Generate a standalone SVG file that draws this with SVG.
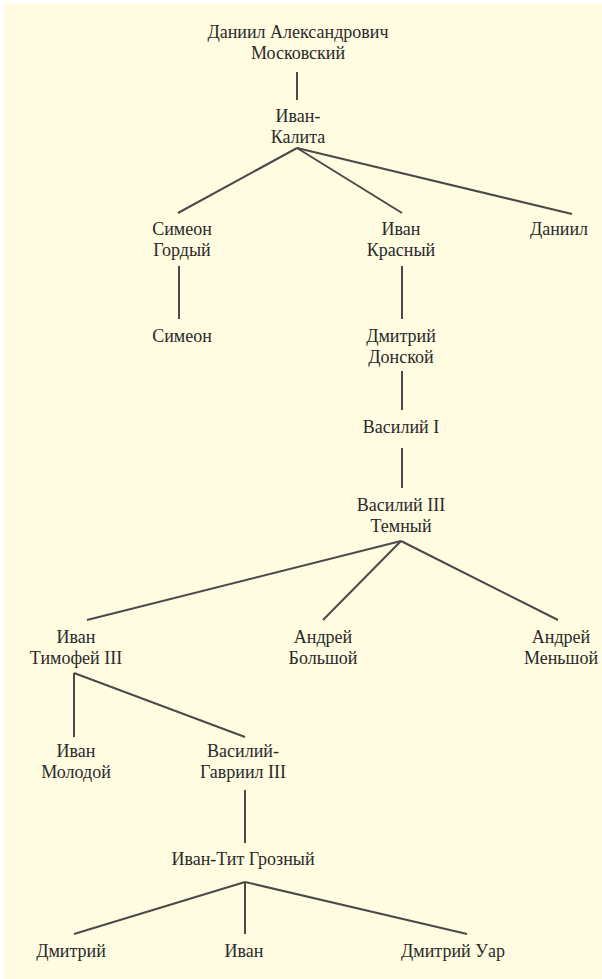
<svg xmlns="http://www.w3.org/2000/svg" width="602" height="979" viewBox="0 0 602 979">
<style>
text{font-size:18px;fill:#2a2a2a;text-anchor:middle}
.c line{stroke:#4a4a4a;stroke-width:2;fill:none}
</style>
<rect x="0" y="0" width="602" height="979" fill="#ffffff"/>
<rect x="4" y="4" width="598" height="975" fill="#fffce1"/>
<g class="c" id="connectors">
<line x1="297" y1="72" x2="297" y2="100"/>
<line x1="297" y1="148" x2="178" y2="213"/>
<line x1="297" y1="148" x2="402" y2="213"/>
<line x1="297" y1="148" x2="572" y2="214"/>
<line x1="179" y1="266" x2="179" y2="319"/>
<line x1="402" y1="266" x2="402" y2="319"/>
<line x1="402" y1="371" x2="402" y2="410"/>
<line x1="402" y1="448" x2="402" y2="488"/>
<line x1="401" y1="541" x2="87" y2="620"/>
<line x1="401" y1="541" x2="323" y2="620"/>
<line x1="401" y1="541" x2="558" y2="620"/>
<line x1="74" y1="673" x2="74" y2="737"/>
<line x1="74" y1="673" x2="245" y2="737"/>
<line x1="245" y1="790" x2="245" y2="843"/>
<line x1="245" y1="882" x2="74" y2="934"/>
<line x1="245" y1="882" x2="245" y2="934"/>
<line x1="245" y1="882" x2="467" y2="934"/>
</g>
<g font-family="'Liberation Serif', 'DejaVu Serif', serif">
<g id="daniil_a"><text x="298" y="38">Даниил Александрович</text><text x="298" y="59">Московский</text></g>
<g id="ivan_kalita"><text x="298" y="122">Иван-</text><text x="298" y="143">Калита</text></g>
<g id="simeon_gordy"><text x="182" y="235">Симеон</text><text x="182" y="256">Гордый</text></g>
<g id="ivan_krasny"><text x="401" y="235">Иван</text><text x="401" y="256">Красный</text></g>
<g id="daniil"><text x="559" y="235">Даниил</text></g>
<g id="simeon"><text x="182" y="342">Симеон</text></g>
<g id="dmitry_donskoy"><text x="401" y="342">Дмитрий</text><text x="401" y="363">Донской</text></g>
<g id="vasily1"><text x="401" y="433">Василий I</text></g>
<g id="vasily3"><text x="401" y="511">Василий III</text><text x="401" y="532">Темный</text></g>
<g id="ivan_timofey"><text x="76" y="643">Иван</text><text x="76" y="664">Тимофей III</text></g>
<g id="andrey_b"><text x="323" y="643">Андрей</text><text x="323" y="664">Большой</text></g>
<g id="andrey_m"><text x="561" y="643">Андрей</text><text x="561" y="664">Меньшой</text></g>
<g id="ivan_molodoy"><text x="76" y="757">Иван</text><text x="76" y="778">Молодой</text></g>
<g id="vasily_gavriil"><text x="243" y="757">Василий-</text><text x="243" y="778">Гавриил III</text></g>
<g id="ivan_grozny"><text x="243" y="865">Иван-Тит Грозный</text></g>
<g id="dmitry"><text x="71" y="957">Дмитрий</text></g>
<g id="ivan"><text x="244" y="957">Иван</text></g>
<g id="dmitry_uar"><text x="453" y="957">Дмитрий Уар</text></g>
</g>
</svg>
